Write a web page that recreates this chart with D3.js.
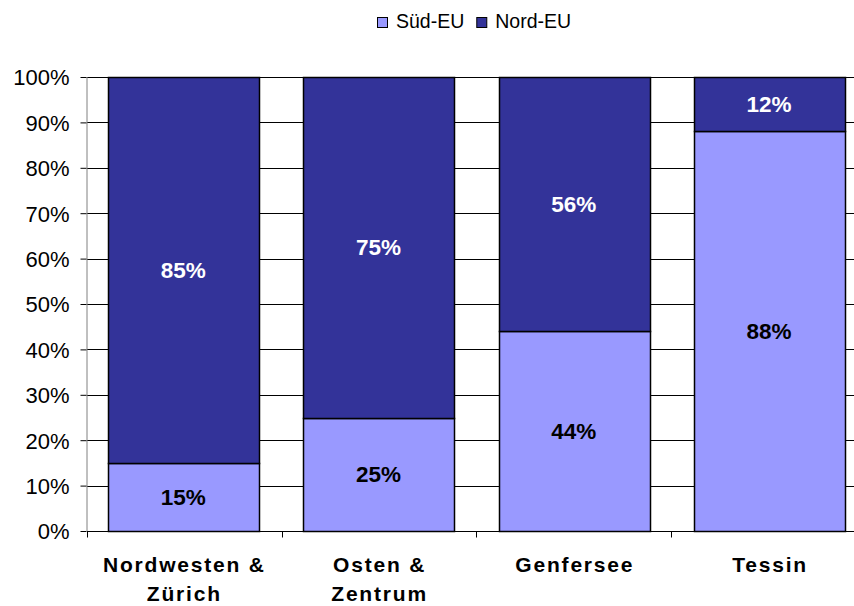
<!DOCTYPE html>
<meta charset="utf-8">
<style>
    body { margin: 0; background: #fff; font-family: 'Liberation Sans', Arial, sans-serif; }
</style>
<script src="https://d3js.org/d3.v7.min.js"></script>
<div id="graph"></div>
<script>
    // data
    const categories = [["Nordwesten &", "Zürich"], ["Osten &", "Zentrum"], ["Genfersee"], ["Tessin"]];
    const seriesNames = ["Süd-EU", "Nord-EU"];
    const sued = [15, 25, 44, 88];
    const nord = [85, 75, 56, 12];
    const yTicks = [0, 10, 20, 30, 40, 50, 60, 70, 80, 90, 100];
    const colors = ["#9999ff", "#333399"];

    const W = 854, H = 606;
    const margin = {top: 77, left: 87, bottom: 74};
    const plotW = 4 * 194.6;

    const svg = d3.select("#graph").append("svg")
        .attr("width", W).attr("height", H);

    const x = d3.scaleBand()
        .domain(d3.range(categories.length))
        .range([margin.left, margin.left + plotW])
        .paddingInner(0.229).paddingOuter(0.108);

    const y = d3.scaleLinear()
        .domain([0, 100])
        .range([H - margin.bottom - 1, margin.top]);

    // gridlines
    svg.append("g").selectAll("line")
        .data(yTicks.filter(d => d > 0))
        .join("line")
        .attr("x1", margin.left).attr("x2", margin.left + plotW)
        .attr("y1", d => Math.round(y(d)) + 0.5).attr("y2", d => Math.round(y(d)) + 0.5)
        .attr("stroke", "#000");

    // stacked bars
    const stack = d3.stack().keys([0, 1])(categories.map((c, i) => [sued[i], nord[i]]));

    stack.forEach((layer, k) => {
        svg.append("g").selectAll("rect")
            .data(layer)
            .join("rect")
            .attr("x", (d, i) => Math.round(x(i)) + 0.5)
            .attr("width", Math.round(x.bandwidth()))
            .attr("y", d => Math.round(y(d[1])) + 0.5)
            .attr("height", d => Math.round(y(d[0])) - Math.round(y(d[1])))
            .attr("fill", colors[k])
            .attr("stroke", "#000")
            .attr("stroke-width", 1.5);

        svg.append("g").selectAll("text")
            .data(layer)
            .join("text")
            .attr("x", (d, i) => x(i) + x.bandwidth() / 2)
            .attr("y", d => (y(d[0]) + y(d[1])) / 2 + 8)
            .attr("text-anchor", "middle")
            .attr("font-size", 22.5)
            .attr("font-weight", "bold")
            .attr("fill", k === 0 ? "#000" : "#fff")
            .text(d => (d[1] - d[0]) + "%");
    });

    // y axis
    const axisY = svg.append("g")
        .attr("transform", `translate(${margin.left - 0.5},0)`)
        .call(d3.axisLeft(y).tickValues(yTicks).tickSize(6).tickFormat(d => d + "%"));
    axisY.select(".domain").attr("stroke", "#808080").attr("d", `M0.5,${y(100)}V${y(0)}`);
    axisY.selectAll(".tick line").attr("stroke", "#000");
    axisY.selectAll(".tick text")
        .attr("font-family", "'Liberation Sans', Arial, sans-serif")
        .attr("font-size", 22).attr("fill", "#000").attr("x", -17).attr("dy", "0.36em");

    // x axis
    const yBase = Math.round(y(0)) + 0.5;
    svg.append("line")
        .attr("x1", margin.left).attr("x2", margin.left + plotW)
        .attr("y1", yBase).attr("y2", yBase)
        .attr("stroke", "#000");
    svg.append("g").selectAll("line")
        .data(d3.range(categories.length + 1))
        .join("line")
        .attr("x1", i => Math.round(margin.left + i * plotW / 4) + 0.5)
        .attr("x2", i => Math.round(margin.left + i * plotW / 4) + 0.5)
        .attr("y1", yBase).attr("y2", yBase + 6)
        .attr("stroke", "#000");

    const labels = svg.append("g").selectAll("text")
        .data(categories)
        .join("text")
        .attr("x", (d, i) => x(i) + x.bandwidth() / 2 + 1)
        .attr("y", 572)
        .attr("text-anchor", "middle")
        .attr("font-size", 21)
        .attr("font-weight", "bold")
        .attr("letter-spacing", 1.8);
    labels.selectAll("tspan")
        .data(d => d)
        .join("tspan")
        .attr("x", function () { return this.parentNode.getAttribute("x"); })
        .attr("dy", (d, j) => j === 0 ? 0 : 29)
        .text(d => d);

    // legend
    const legend = svg.append("g").attr("transform", "translate(377,22)");
    let lx = 0;
    seriesNames.forEach((name, k) => {
        legend.append("rect")
            .attr("x", lx + 0.5).attr("y", -4.5)
            .attr("width", 10).attr("height", 10)
            .attr("fill", colors[k]).attr("stroke", "#000");
        const t = legend.append("text")
            .attr("x", lx + 19).attr("y", 5.5)
            .attr("font-size", 19.5)
            .text(name);
        lx += 19 + t.node().getComputedTextLength() + 12;
    });
</script>
